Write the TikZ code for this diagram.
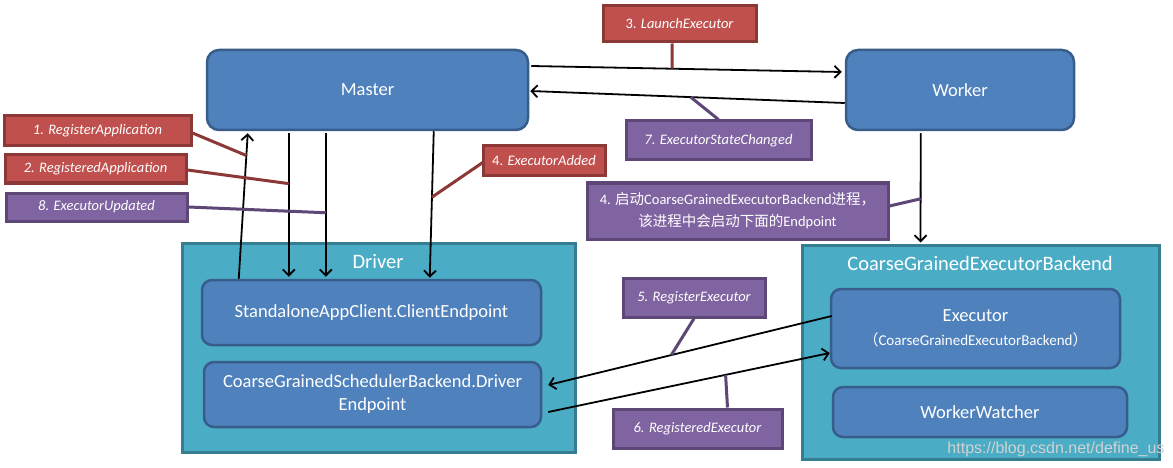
\documentclass[tikz,border=0pt]{standalone}
\usepackage{fontspec}
\setmainfont{Carlito}
\newfontfamily\cjk{Noto Sans CJK SC}
\newfontfamily\wmfont{Liberation Sans}
\usetikzlibrary{arrows.meta,calc}
\definecolor{boxblue}{HTML}{4F81BD}
\definecolor{boxblueb}{HTML}{385D8A}
\definecolor{tealfill}{HTML}{4BACC6}
\definecolor{tealbord}{HTML}{357D91}
\definecolor{lred}{HTML}{C0504D}
\definecolor{lredb}{HTML}{8C3836}
\definecolor{lpur}{HTML}{8064A2}
\definecolor{lpurb}{HTML}{5C4776}
\tikzset{
 bluebox/.style={draw=boxblueb, fill=boxblue, line width=2.5pt, rounded corners=12pt, text=white, font=\fontsize{18.5}{23}\selectfont, align=center, inner sep=0pt},
 container/.style={draw=tealbord, fill=tealfill, line width=3pt, inner sep=0pt},
 boxtitle/.style={text=white, font=\fontsize{20.5}{24}\selectfont, inner sep=0pt},
 redlabel/.style={draw=lredb, fill=lred, line width=3pt, text=white, font=\fontsize{14.5}{17}\selectfont\itshape, inner sep=0pt},
 purlabel/.style={draw=lpurb, fill=lpur, line width=3pt, text=white, font=\fontsize{14.5}{17}\selectfont\itshape, inner sep=0pt},
 arr/.style={line width=1.8pt, -{Straight Barb[length=6pt,width=12pt]}},
 redtick/.style={draw=lredb, line width=3pt},
 purtick/.style={draw=lpurb, line width=3pt},
}
\begin{document}
\begin{tikzpicture}[x=1pt,y=-1pt]
\fill[white] (0,0) rectangle (1173,468);
\useasboundingbox (0,0) rectangle (1173,468);
% containers
\node[container, minimum width=393pt, minimum height=209pt] (driver) at (378.5,347.5) {};
\node[container, minimum width=357pt, minimum height=214pt] (cgeb) at (980.5,352) {};
\node[boxtitle] (drvtitle) at (378,262) {Driver};
\node[boxtitle] (cgebtitle) at (980,263) {CoarseGrainedExecutorBackend};
% blue boxes
\node[bluebox, minimum width=321pt, minimum height=80pt] (master) at (367.5,90) {Master};
\node[bluebox, minimum width=228pt, minimum height=80pt] (worker) at (960,90) {Worker};
\node[bluebox, rounded corners=10pt, minimum width=339pt, minimum height=65pt] (client) at (371.5,312.5) {StandaloneAppClient.ClientEndpoint};
\node[bluebox, rounded corners=10pt, minimum width=337pt, minimum height=65pt] (drvep) at (372.5,394.5) {CoarseGrainedSchedulerBackend.Driver\\Endpoint};
\node[bluebox, rounded corners=10pt, minimum width=289pt, minimum height=79pt] (exec) at (975.5,328.5) {Executor\\[1pt]{\fontsize{15}{18}\selectfont{\cjk （}CoarseGrainedExecutorBackend{\cjk ）}}};
\node[bluebox, rounded corners=10pt, minimum width=294pt, minimum height=50pt] (watcher) at (980,412) {WorkerWatcher};
% labels
\node[redlabel, minimum width=187pt, minimum height=30pt] (l1) at (97.5,131) {1. RegisterApplication};
\node[redlabel, minimum width=181pt, minimum height=28pt] (l2) at (95.5,169) {2. RegisteredApplication};
\node[purlabel, minimum width=181pt, minimum height=28pt] (l8) at (96.5,207) {8. ExecutorUpdated};
\node[redlabel, minimum width=153pt, minimum height=36pt] (l3) at (679.5,24) {{\upshape 3.} LaunchExecutor};
\node[redlabel, minimum width=122pt, minimum height=30pt] (l4a) at (544,161) {{\upshape 4.} ExecutorAdded};
\node[purlabel, minimum width=185pt, minimum height=39pt] (l7) at (718.5,140.5) {7. ExecutorStateChanged};
\node[purlabel, minimum width=301pt, minimum height=56pt, align=center, font=\fontsize{14.5}{22}\selectfont\upshape] (l4b) at (737.5,211) {4. {\cjk 启动}CoarseGrainedExecutorBackend{\cjk 进程，}\\{\cjk 该进程中会启动下面的}Endpoint};
\node[purlabel, minimum width=142pt, minimum height=39pt] (l5) at (694,297.5) {5. RegisterExecutor};
\node[purlabel, minimum width=169pt, minimum height=39pt] (l6) at (697.5,428.5) {6. RegisteredExecutor};
% connector end points
\coordinate (a1s) at ($(client.north west)+(38,0)$);
\coordinate (a1e) at ($(master.south west)+(42,2)$);
\coordinate (a2s) at ($(master.south west)+(83,2)$);
\coordinate (a2e) at ($(client.north west)+(88,-2)$);
\coordinate (a8s) at ($(master.south west)+(120,2)$);
\coordinate (a8e) at ($(client.north west)+(125,-2)$);
\coordinate (a4s) at ($(master.south west)+(228,0)$);
\coordinate (a4e) at ($(client.north west)+(229,-1)$);
\coordinate (a3s) at ($(master.east)+(2,-24)$);
\coordinate (a3e) at ($(worker.west)+(-3,-18)$);
\coordinate (a7s) at ($(worker.west)+(0,13)$);
\coordinate (a7e) at ($(master.east)+(1,1)$);
\coordinate (aws) at ($(worker.south west)+(76,2)$);
\coordinate (awe) at ($(cgeb.north west)+(120,-1)$);
\coordinate (a5s) at ($(exec.west)+(2,-12.5)$);
\coordinate (a5e) at ($(drvep.east)+(6,-9.5)$);
\coordinate (a6s) at ($(drvep.east)+(6,17.5)$);
\coordinate (a6e) at ($(exec.west)+(0,24.5)$);
% connectors
\draw[arr] (a1s) -- (a1e);
\draw[arr] (a2s) -- (a2e);
\draw[arr] (a8s) -- (a8e);
\draw[arr] (a4s) -- (a4e);
\draw[arr] (a3s) -- (a3e);
\draw[arr] (a7s) -- (a7e);
\draw[arr] (aws) -- (awe);
\draw[arr] (a5s) -- (a5e);
\draw[arr] (a6s) -- (a6e);
% ticks
\draw[redtick] ($(l1.east)+(0,2)$) -- ($(a1s)!0.847!(a1e)$);
\draw[redtick] ($(l2.east)+(0,1)$) -- ($(a2s)!0.351!(a2e)$);
\draw[purtick] (l8.east) -- ($(a8s)!0.554!(a8e)$);
\draw[redtick] ($(l4a.west)+(2,1)$) -- ($(a4s)!0.45!(a4e)$);
\draw[redtick] ($(l3.south)+(-7.5,0)$) -- ($(a3s)!0.454!(a3e)$);
\draw[purtick] (l7.north) -- ($(a7s)!0.49!(a7e)$);
\draw[purtick] ($(l4b.east)+(0,-5)$) -- ($(aws)!0.6!(awe)$);
\draw[purtick] (l5.south) -- ($(a5s)!0.566!(a5e)$);
\draw[purtick] ($(l6.north)+(30,0)$) -- ($(a6s)!0.63!(a6e)$);
% watermark
\node[text=gray!35, font=\wmfont\fontsize{16}{19}\selectfont, inner sep=0pt] (wm) at (1056,449) {https://blog.csdn.net/define\_us};
\end{tikzpicture}
\end{document}
